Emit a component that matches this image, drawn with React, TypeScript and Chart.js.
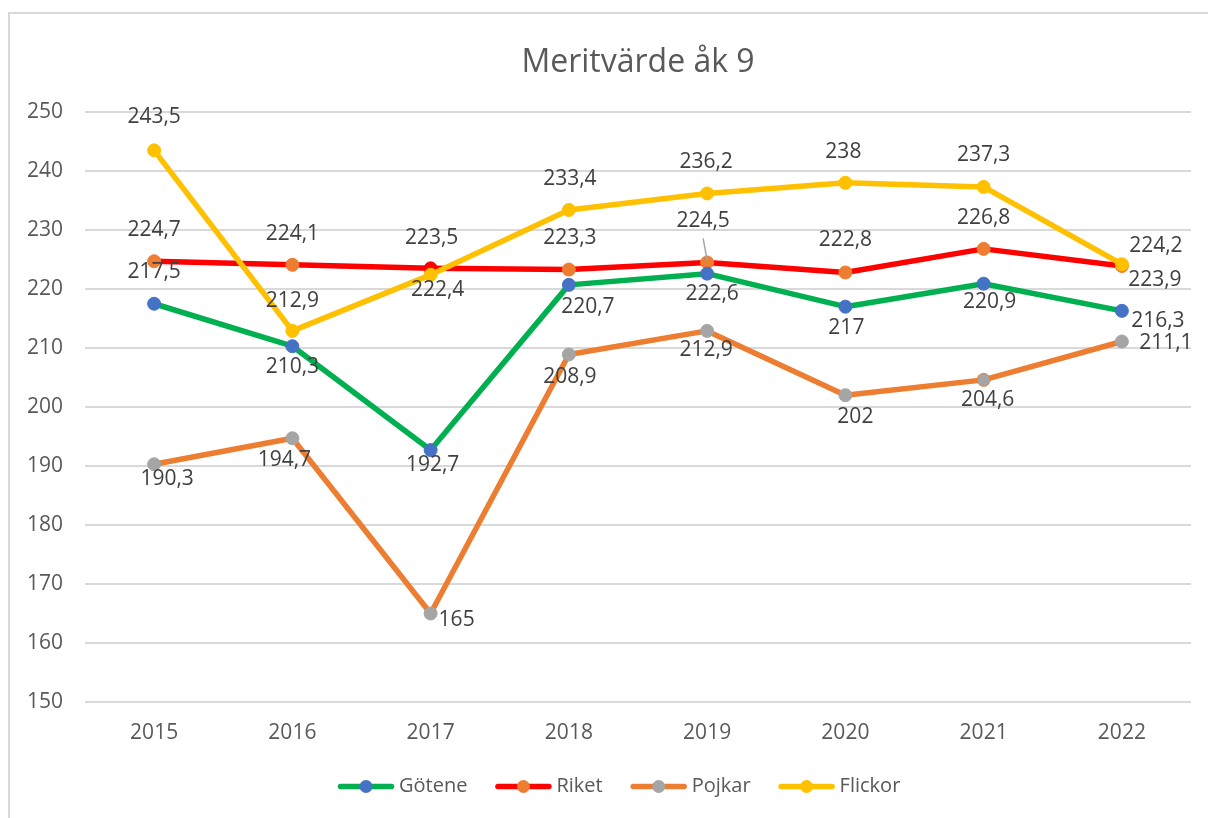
import React, { useEffect, useRef } from 'react';
import { Chart, registerables } from 'chart.js';

Chart.register(...registerables);

// ---------- data ----------
const YEARS = ['2015', '2016', '2017', '2018', '2019', '2020', '2021', '2022'];
const GOTENE = [217.5, 210.3, 192.7, 220.7, 222.6, 217, 220.9, 216.3];
const RIKET = [224.7, 224.1, 223.5, 223.3, 224.5, 222.8, 226.8, 223.9];
const POJKAR = [190.3, 194.7, 165, 208.9, 212.9, 202, 204.6, 211.1];
const FLICKOR = [243.5, 212.9, 222.4, 233.4, 236.2, 238, 237.3, 224.2];
const SERIES_NAMES = ['Götene', 'Riket', 'Pojkar', 'Flickor'];
const TITLE = 'Meritvärde åk 9';
const Y_MIN = 150;
const Y_MAX = 250;
const Y_STEP = 10;

// ---------- label placement (style) ----------
const GOTENE_LBL = [[0, -32], [0, 21], [2, 15], [19, 22], [5, 20], [1, 21], [6, 18], [36, 10]];
const RIKET_LBL = [[0, -31], [0, -31], [1, -30], [1, -32], [-4, -41], [0, -32], [0, -31], [33, 14]];
const POJKAR_LBL = [[13, 15], [-8, 22], [26, 7], [1, 23], [-1, 19], [10, 22], [4, 20], [44, 2]];
const FLICKOR_LBL = [[0, -33], [0, -30], [7, 15], [1, -31], [-1, -31], [-2, -31], [0, -32], [34, -18]];
const LABEL_OFFSETS = [GOTENE_LBL, RIKET_LBL, POJKAR_LBL, FLICKOR_LBL];
const LEADER = { dataset: 1, index: 4 };

// ---------- colours ----------
const C_GREEN = '#00b050';
const C_BLUE = '#4472c4';
const C_RED = '#ff0000';
const C_ORANGE = '#ed7d31';
const C_GRAY = '#a5a5a5';
const C_YELLOW = '#ffc000';
const TEXT = '#595959';
const LABEL_TEXT = '#404040';
const GRID = '#d9d9d9';
const FONT = "'Open Sans', 'Noto Sans', sans-serif";

const LINE_COLORS = [C_GREEN, C_RED, C_ORANGE, C_YELLOW];
const MARKER_COLORS = [C_BLUE, C_ORANGE, C_GRAY, C_YELLOW];

const fmt = (v: number) => String(v).replace('.', ',');

const labelPlugin = {
  id: 'excelPointLabels',
  afterDatasetsDraw(chart: any) {
    const ctx = chart.ctx;
    ctx.save();
    const lm = chart.getDatasetMeta(LEADER.dataset).data[LEADER.index];
    if (lm) {
      ctx.strokeStyle = '#a6a6a6';
      ctx.lineWidth = 1.5;
      ctx.beginPath();
      ctx.moveTo(lm.x - 4, lm.y - 24);
      ctx.lineTo(lm.x, lm.y - 2);
      ctx.stroke();
    }
    ctx.font = `21px ${FONT}`;
    ctx.fillStyle = LABEL_TEXT;
    ctx.textAlign = 'center';
    ctx.textBaseline = 'middle';
    chart.data.datasets.forEach((ds: any, di: number) => {
      const meta = chart.getDatasetMeta(di);
      const offs = LABEL_OFFSETS[di];
      meta.data.forEach((pt: any, i: number) => {
        const o = offs[i] || [0, -30];
        ctx.fillText(fmt(ds.data[i]), pt.x + o[0], pt.y + o[1]);
      });
    });
    ctx.restore();
  },
};

const LEGEND_START_X = 328;
const LEGEND_Y = 772.5;
const LEGEND_LINE = 56;

const legendPlugin = {
  id: 'excelLegend',
  afterDraw(chart: any) {
    const ctx = chart.ctx;
    ctx.save();
    ctx.font = `20px ${FONT}`;
    ctx.textBaseline = 'middle';
    ctx.textAlign = 'left';
    let x = LEGEND_START_X;
    const y = LEGEND_Y;
    chart.data.datasets.forEach((ds: any, di: number) => {
      ctx.strokeStyle = LINE_COLORS[di];
      ctx.lineWidth = 5.5;
      ctx.lineCap = 'round';
      ctx.beginPath();
      ctx.moveTo(x + 2.5, y);
      ctx.lineTo(x + LEGEND_LINE - 2.5, y);
      ctx.stroke();
      ctx.fillStyle = MARKER_COLORS[di];
      ctx.beginPath();
      ctx.arc(x + LEGEND_LINE / 2, y, 6.5, 0, Math.PI * 2);
      ctx.fill();
      ctx.fillStyle = TEXT;
      ctx.fillText(ds.label, x + LEGEND_LINE + 5, y);
      const w = ctx.measureText(ds.label).width;
      x += LEGEND_LINE + 5 + w + 28;
    });
    ctx.restore();
  },
};

export default function App() {
  const ref = useRef<HTMLCanvasElement | null>(null);

  useEffect(() => {
    if (!ref.current) return;
    const riketPts = RIKET.map((_, i) => (i === 2 ? C_RED : C_ORANGE));
    const pojkarBorders = POJKAR.map((_, i) => (i === 6 ? C_ORANGE : C_GRAY));
    const common = {
      borderWidth: 5.5,
      borderJoinStyle: 'round' as const,
      borderCapStyle: 'round' as const,
      pointRadius: 6.5,
      pointBorderWidth: 1,
      pointHoverRadius: 6.5,
      tension: 0,
    };
    const chart = new Chart(ref.current, {
      type: 'line',
      data: {
        labels: YEARS,
        datasets: [
          {
            ...common,
            label: SERIES_NAMES[0],
            data: GOTENE,
            borderColor: C_GREEN,
            pointBackgroundColor: C_BLUE,
            pointBorderColor: C_BLUE,
            order: 1,
          },
          {
            ...common,
            label: SERIES_NAMES[1],
            data: RIKET,
            borderColor: C_RED,
            pointBackgroundColor: riketPts,
            pointBorderColor: riketPts,
            order: 3,
          },
          {
            ...common,
            label: SERIES_NAMES[2],
            data: POJKAR,
            borderColor: C_ORANGE,
            pointBackgroundColor: C_GRAY,
            pointBorderColor: pojkarBorders,
            order: 2,
          },
          {
            ...common,
            label: SERIES_NAMES[3],
            data: FLICKOR,
            borderColor: C_YELLOW,
            pointBackgroundColor: C_YELLOW,
            pointBorderColor: C_YELLOW,
            order: 0,
          },
        ],
      },
      options: {
        responsive: false,
        maintainAspectRatio: false,
        animation: false,
        layout: { padding: { top: 0, left: 0, right: 17, bottom: 0 } },
        plugins: {
          legend: { display: false },
          tooltip: { enabled: false },
          title: {
            display: true,
            text: TITLE,
            fullSize: false,
            color: TEXT,
            font: { family: FONT, size: 32, weight: 'normal' },
            padding: { top: 30, bottom: 29.6 },
          },
        },
        scales: {
          x: {
            offset: true,
            grid: { display: false, drawTicks: false },
            border: { display: false },
            ticks: { color: TEXT, font: { family: FONT, size: 21 }, padding: 18, maxRotation: 0 },
            afterFit: (s: any) => {
              s.height = 116;
            },
          },
          y: {
            min: Y_MIN,
            max: Y_MAX,
            grid: { color: GRID, lineWidth: 2, drawTicks: false },
            border: { display: false },
            ticks: {
              stepSize: Y_STEP,
              color: TEXT,
              font: { family: FONT, size: 21 },
              padding: 22,
            },
            afterFit: (s: any) => {
              s.width = 75;
            },
          },
        },
      },
      plugins: [labelPlugin, legendPlugin],
    });
    return () => chart.destroy();
  }, []);

  return (
    <div
      style={{
        position: 'absolute',
        left: 8,
        top: 12,
        width: 1198,
        height: 804,
        borderLeft: `2px solid ${GRID}`,
        borderTop: `2px solid ${GRID}`,
        background: '#fff',
      }}
    >
      <canvas ref={ref} width={1198} height={804} style={{ display: 'block' }} />
    </div>
  );
}
